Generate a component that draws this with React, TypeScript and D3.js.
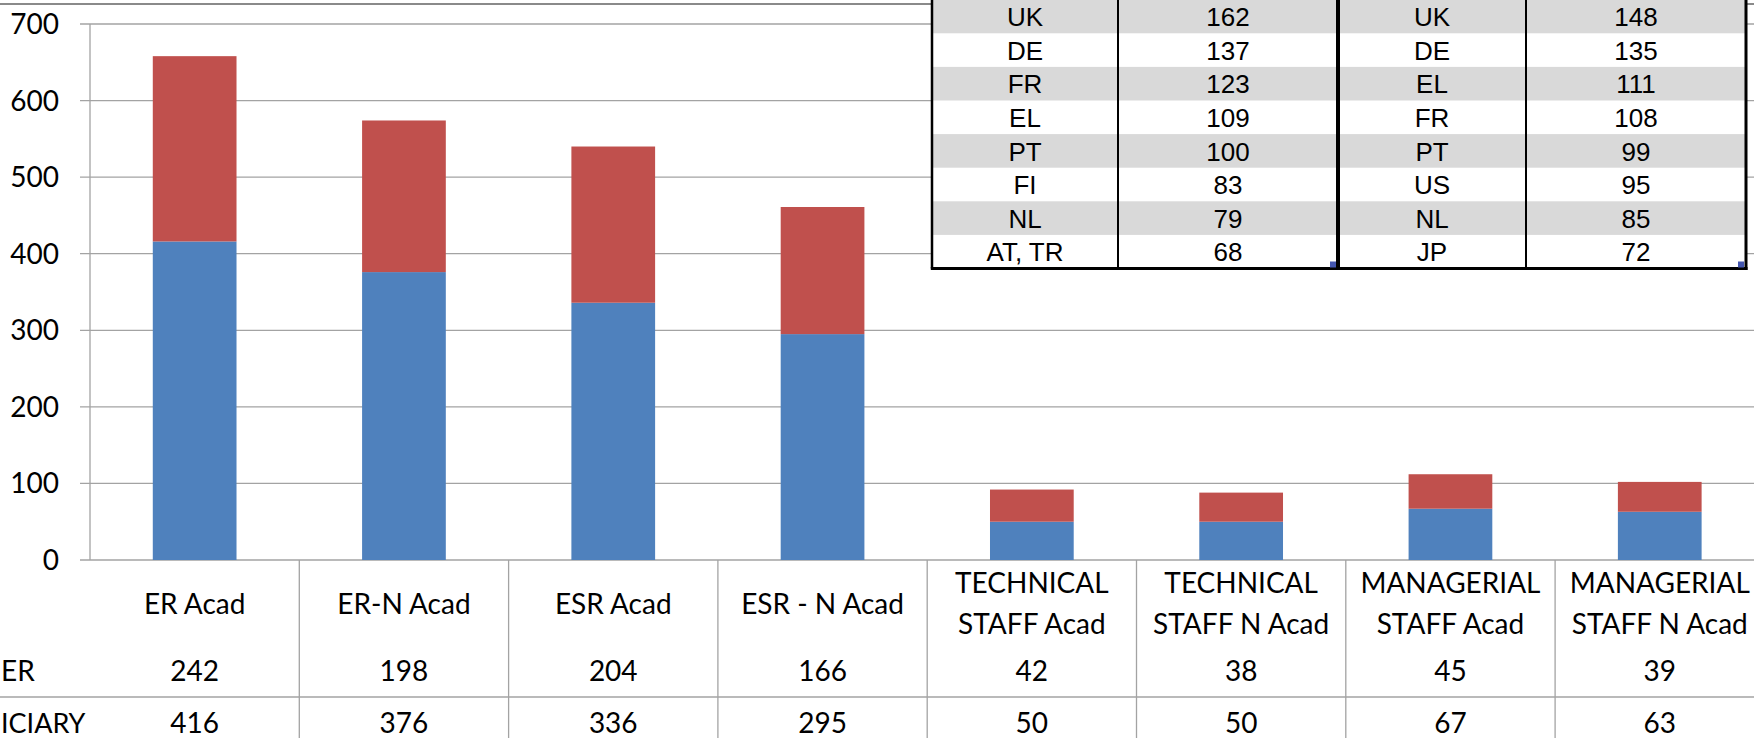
import React from 'react';
import * as d3 from 'd3';

const categories = [
  'ER Acad',
  'ER-N Acad',
  'ESR Acad',
  'ESR - N Acad',
  'TECHNICAL\nSTAFF Acad',
  'TECHNICAL\nSTAFF N Acad',
  'MANAGERIAL\nSTAFF Acad',
  'MANAGERIAL\nSTAFF N Acad',
];
// row labels are cropped at the left edge in the source image
const seriesLabels = ['ER', 'ICIARY'];
const partner = [242, 198, 204, 166, 42, 38, 45, 39];
const beneficiary = [416, 376, 336, 295, 50, 50, 67, 63];
const yTicks = [0, 100, 200, 300, 400, 500, 600, 700];

const leftCountries = ['UK', 'DE', 'FR', 'EL', 'PT', 'FI', 'NL', 'AT, TR'];
const leftCounts = [162, 137, 123, 109, 100, 83, 79, 68];
const rightCountries = ['UK', 'DE', 'EL', 'FR', 'PT', 'US', 'NL', 'JP'];
const rightCounts = [148, 135, 111, 108, 99, 95, 85, 72];

const W = 1754;
const H = 738;
const BLUE = '#4f81bd';
const RED = '#c0504d';
const GRID = '#a3a3a3';
const FONT = 'Lato, sans-serif';
const TFONT = '"Liberation Sans", Arial, sans-serif';

export default function App() {
  const x = d3.scaleBand<string>().domain(categories).range([90, 90 + 8 * 209.3]).padding(0);
  const y = d3.scaleLinear().domain([0, 700]).range([560, 24]);
  const barW = x.bandwidth() * 0.4;

  const rows = categories.map((c, i) => ({ cat: c, BENEFICIARY: beneficiary[i], PARTNER: partner[i] }));
  const stacked = d3.stack<any>().keys(['BENEFICIARY', 'PARTNER'])(rows);
  const colors = [BLUE, RED];

  const rowH = 33.6;
  const tBottom = 268.5;
  const tTop = tBottom - 8 * rowH;
  const rowY = d3.scaleBand<number>().domain(d3.range(8)).range([tTop, tBottom]);

  const tables = [
    { names: leftCountries, counts: leftCounts, x0: 932, x1: 1118, x2: 1338 },
    { names: rightCountries, counts: rightCounts, x0: 1338, x1: 1526, x2: 1746 },
  ];

  return (
    <svg
      width={W}
      height={H}
      style={{ position: 'absolute', left: 0, top: 0, background: '#fff', overflow: 'hidden' }}
    >
      <rect x={0} y={0} width={W} height={H} fill="#fff" />
      {/* top border */}
      <line x1={0} x2={W} y1={4} y2={4} stroke="#8a8a8a" strokeWidth={2} />

      {/* gridlines + y labels */}
      {yTicks.map((t) => (
        <g key={t}>
          <line x1={80} x2={W} y1={y(t)} y2={y(t)} stroke={GRID} strokeWidth={1.3} />
          <text x={59} y={y(t) + 10} textAnchor="end" fontFamily={FONT} fontSize={28} fill="#000">
            {t}
          </text>
        </g>
      ))}
      <line x1={90} x2={90} y1={y(700)} y2={y(0)} stroke={GRID} strokeWidth={1.3} />

      {/* bars */}
      {stacked.map((s, si) =>
        s.map((d, i) => (
          <rect
            key={`${si}-${i}`}
            x={(x(categories[i]) as number) + (x.bandwidth() - barW) / 2}
            y={y(d[1])}
            width={barW}
            height={y(d[0]) - y(d[1])}
            fill={colors[si]}
          />
        ))
      )}

      {/* data table under axis */}
      <line x1={0} x2={W} y1={697} y2={697} stroke={GRID} strokeWidth={1.3} />
      {categories.slice(1).map((c) => (
        <line
          key={c}
          x1={x(c) as number}
          x2={x(c) as number}
          y1={560}
          y2={H}
          stroke={GRID}
          strokeWidth={1.3}
        />
      ))}
      {categories.map((c, i) => {
        const cx = (x(c) as number) + x.bandwidth() / 2;
        const lines = c.split('\n');
        return (
          <g key={c} fontFamily={FONT} fontSize={28} fill="#000" textAnchor="middle">
            {lines.length === 1 ? (
              <text x={cx} y={614}>{lines[0]}</text>
            ) : (
              lines.map((l, li) => (
                <text key={li} x={cx} y={593 + li * 40.5}>
                  {l}
                </text>
              ))
            )}
            <text x={cx} y={681}>{partner[i]}</text>
            <text x={cx} y={733}>{beneficiary[i]}</text>
          </g>
        );
      })}
      <text x={1} y={681} fontFamily={FONT} fontSize={28} fill="#000">
        {seriesLabels[0]}
      </text>
      <text x={1} y={733} fontFamily={FONT} fontSize={27} fill="#000">
        {seriesLabels[1]}
      </text>

      {/* country tables */}
      {tables.map((t, ti) => (
        <g key={ti}>
          <rect x={t.x0} y={tTop} width={t.x2 - t.x0} height={tBottom - tTop} fill="#fff" />
          {t.names.map((n, i) => (
            <g key={i}>
              {i % 2 === 0 && (
                <rect x={t.x0} y={rowY(i)} width={t.x2 - t.x0} height={rowY.bandwidth()} fill="#d9d9d9" />
              )}
              <text
                x={(t.x0 + t.x1) / 2}
                y={(rowY(i) as number) + rowY.bandwidth() / 2 + 9.7}
                textAnchor="middle"
                fontFamily={TFONT}
                fontSize={26}
                fill="#000"
              >
                {n}
              </text>
              <text
                x={(t.x1 + t.x2) / 2}
                y={(rowY(i) as number) + rowY.bandwidth() / 2 + 9.7}
                textAnchor="middle"
                fontFamily={TFONT}
                fontSize={26}
                fill="#000"
              >
                {t.counts[i]}
              </text>
            </g>
          ))}
          <line x1={t.x0} x2={t.x0} y1={tTop} y2={tBottom} stroke="#000" strokeWidth={ti === 0 ? 2.5 : 4} />
          <line x1={t.x1} x2={t.x1} y1={tTop} y2={tBottom} stroke="#000" strokeWidth={2} />
          <line x1={t.x2} x2={t.x2} y1={tTop} y2={tBottom + 1.5} stroke="#000" strokeWidth={ti === 0 ? 4 : 3} />
          <line x1={t.x0 - 1.2} x2={t.x2 + 1.5} y1={tBottom} y2={tBottom} stroke="#000" strokeWidth={3} />
          <rect x={t.x2 - 8} y={261.5} width={6} height={6} fill="#4456b0" />
        </g>
      ))}
    </svg>
  );
}
